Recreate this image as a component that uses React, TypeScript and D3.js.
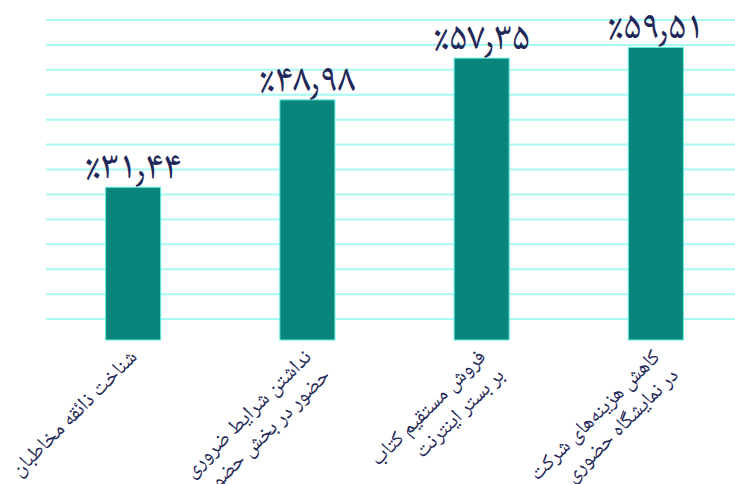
import React from "react";
import * as d3 from "d3";

const categories = [
  "شناخت ذائقه مخاطبان",
  "نداشتن شرایط ضروری\nحضور در بخش حضوری",
  "فروش مستقیم کتاب\nبر بستر اینترنت",
  "کاهش هزینه\u200cهای شرکت\nدر نمایشگاه حضوری",
];
const values = [31.44, 48.98, 57.35, 59.51];
const gridTicks = [5, 10, 15, 20, 25, 30, 35, 40, 45, 50, 55, 60, 65];

const W = 735;
const H = 484;
const plotLeft = 46;
const plotRight = 743;
const plotBottom = 340;

const toPersian = (v: number) =>
  "٪" +
  v
    .toFixed(2)
    .replace(".", "٫")
    .replace(/[0-9]/g, (d) => "۰۱۲۳۴۵۶۷۸۹"[+d]);

export default function App() {
  const x = d3
    .scaleBand<string>()
    .domain(categories)
    .range([plotLeft, plotRight])
    .paddingInner(0.684)
    .paddingOuter(0.342);
  const y = d3.scaleLinear().domain([0, 65]).range([344, 20]);
  const font = "'Noto Naskh Arabic', 'Noto Sans Arabic', 'DejaVu Sans', sans-serif";
  const textColor = "#1f2858";

  return (
    <svg
      width={W}
      height={H}
      style={{ position: "absolute", left: 0, top: 0, background: "#fff" }}
    >
      <g>
        {gridTicks.map((t) => (
          <line
            key={t}
            x1={plotLeft}
            x2={plotRight}
            y1={y(t)}
            y2={y(t)}
            stroke="#a6faf3"
            strokeWidth={2}
          />
        ))}
      </g>
      <g>
        {categories.map((c, i) => {
          const bx = x(c)!;
          const top = y(values[i]);
          return (
            <rect
              key={c}
              x={bx}
              y={top}
              width={x.bandwidth()}
              height={plotBottom - top}
              fill="#0a857b"
              stroke="#5ef0e0"
              strokeWidth={1}
            />
          );
        })}
      </g>
      <g>
        {categories.map((c, i) => (
          <text
            key={c}
            x={x(c)! + x.bandwidth() / 2}
            y={y(values[i]) - 9}
            textAnchor="middle"
            fontFamily={font}
            fontSize={40}
            fontWeight={300}
            fill={textColor}
          >
            {toPersian(values[i])}
          </text>
        ))}
      </g>
      <g>
        {categories.map((c) => {
          const cx = x(c)! + x.bandwidth() / 2 + 5;
          const cy = 358;
          return (
            <g key={c} transform={`translate(${cx},${cy}) rotate(-45)`}>
              {c.split("\n").map((line, j) => (
                <text
                  key={j}
                  x={0}
                  y={j * 26}
                  textAnchor="end"
                  fontFamily={font}
                  fontSize={21}
                  fill={textColor}
                >
                  {line}
                </text>
              ))}
            </g>
          );
        })}
      </g>
    </svg>
  );
}
